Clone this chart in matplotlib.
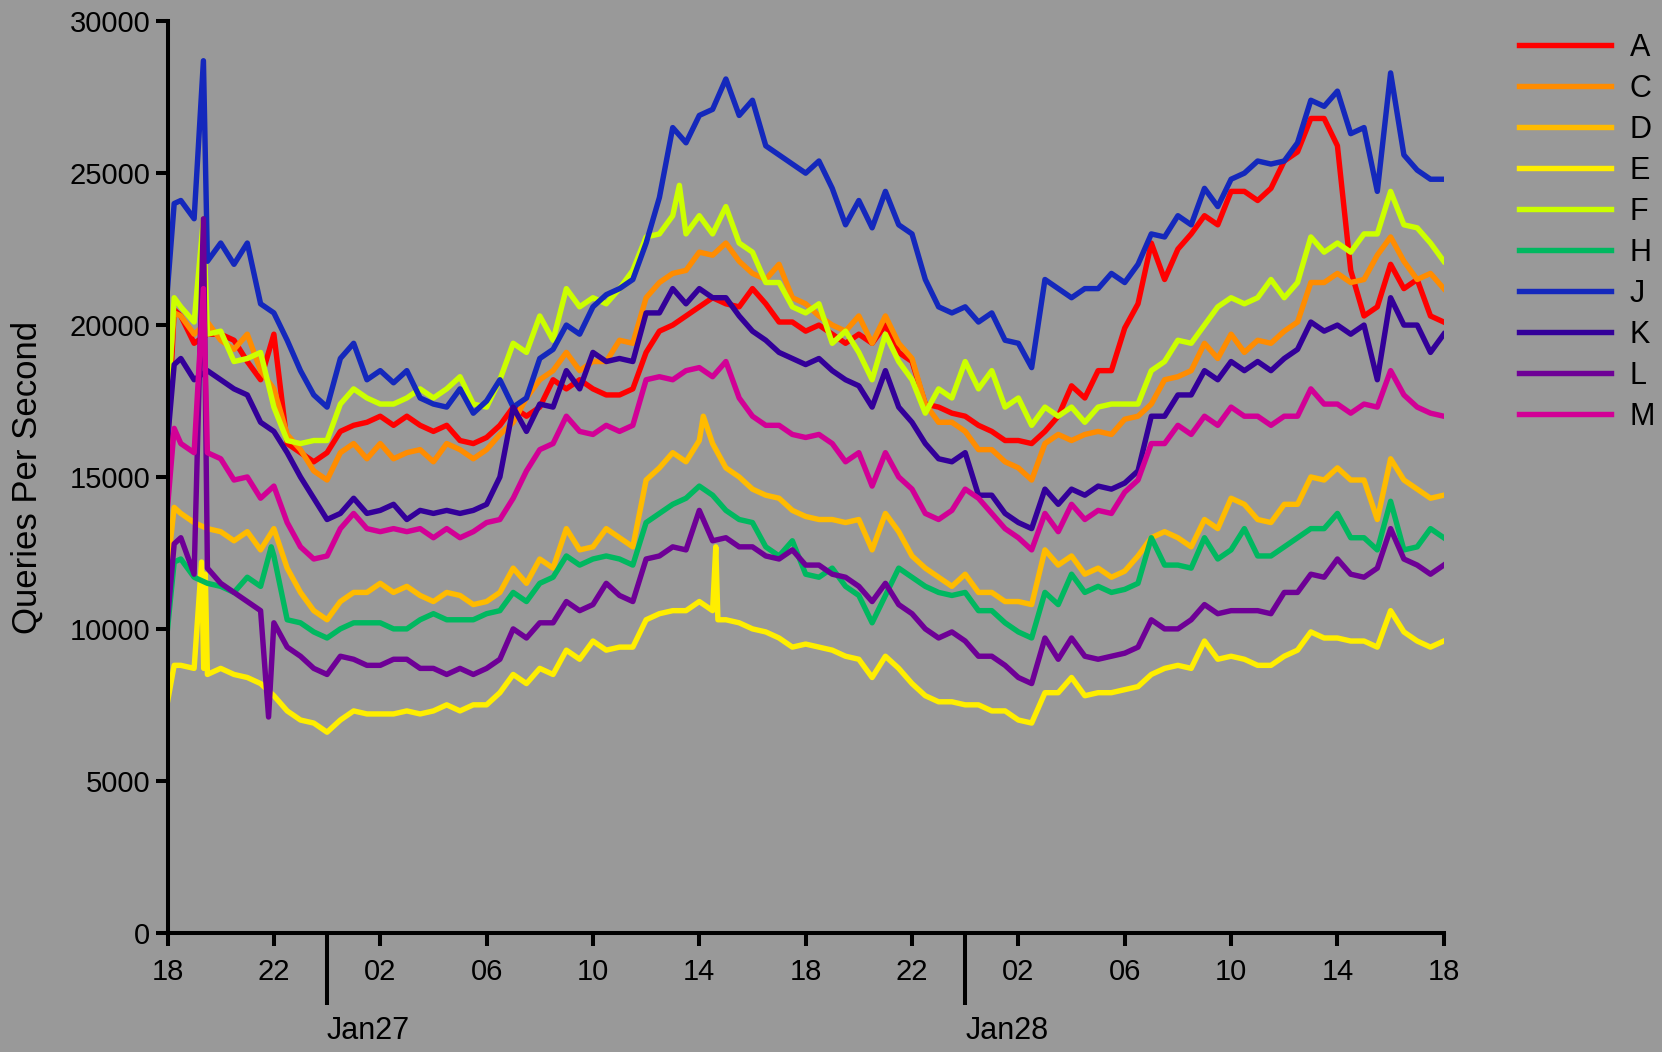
import numpy as np
import matplotlib.pyplot as plt

# half-hourly readings, Jan 26 18:00 .. Jan 28 18:00 (97 points each)
A = [16000, 20300, 19400, 19700, 19700, 19500, 18800, 18200, 19700, 16100, 15800, 15500, 15800,
     16500, 16700, 16800, 17000, 16700, 17000, 16700, 16500, 16700, 16200, 16100, 16300,
     16700, 17300, 17000, 17300, 18200, 17900, 18200, 17900, 17700, 17700, 17900, 19100,
     19800, 20000, 20300, 20600, 20900, 20700, 20600, 21200, 20700, 20100, 20100, 19800,
     20000, 19700, 19400, 19700, 19400, 20000, 19100, 18800, 17400, 17300, 17100, 17000,
     16700, 16500, 16200, 16200, 16100, 16500, 17000, 18000, 17600, 18500, 18500, 19900,
     20700, 22700, 21500, 22500, 23000, 23600, 23300, 24400, 24400, 24100, 24500, 25400,
     25700, 26800, 26800, 25900, 21800, 20300, 20600, 22000, 21200, 21500, 20300, 20100]
C = [17500, 20300, 19700, 20100, 19500, 19200, 19700, 18500, 17900, 16400, 15900, 15200, 14900,
     15800, 16100, 15600, 16100, 15600, 15800, 15900, 15500, 16100, 15900, 15600, 15900,
     16400, 16800, 17600, 18200, 18500, 19100, 18500, 18800, 18800, 19500, 19400, 20900,
     21400, 21700, 21800, 22400, 22300, 22700, 22100, 21700, 21500, 22000, 20900, 20700,
     20300, 20000, 19800, 20300, 19400, 20300, 19400, 18900, 17400, 16800, 16800, 16500,
     15900, 15900, 15500, 15300, 14900, 16100, 16400, 16200, 16400, 16500, 16400, 16900,
     17000, 17400, 18200, 18300, 18500, 19400, 18900, 19700, 19100, 19500, 19400, 19800,
     20100, 21400, 21400, 21700, 21400, 21500, 22300, 22900, 22100, 21500, 21700, 21200]
D = [12000, 13800, 13500, 13300, 13200, 12900, 13200, 12600, 13300, 12000, 11200, 10600, 10300,
     10900, 11200, 11200, 11500, 11200, 11400, 11100, 10900, 11200, 11100, 10800, 10900,
     11200, 12000, 11500, 12300, 12000, 13300, 12600, 12700, 13300, 13000, 12700, 14900,
     15300, 15800, 15500, 16200, 16100, 15300, 15000, 14600, 14400, 14300, 13900, 13700,
     13600, 13600, 13500, 13600, 12600, 13800, 13200, 12400, 12000, 11700, 11400, 11800,
     11200, 11200, 10900, 10900, 10800, 12600, 12100, 12400, 11800, 12000, 11700, 11900,
     12400, 13000, 13200, 13000, 12700, 13600, 13300, 14300, 14100, 13600, 13500, 14100,
     14100, 15000, 14900, 15300, 14900, 14900, 13600, 15600, 14900, 14600, 14300, 14400]
E = [7600, 8800, 8700, 8500, 8700, 8500, 8400, 8200, 7800, 7300, 7000, 6900, 6600,
     7000, 7300, 7200, 7200, 7200, 7300, 7200, 7300, 7500, 7300, 7500, 7500,
     7900, 8500, 8200, 8700, 8500, 9300, 9000, 9600, 9300, 9400, 9400, 10300,
     10500, 10600, 10600, 10900, 10600, 10300, 10200, 10000, 9900, 9700, 9400, 9500,
     9400, 9300, 9100, 9000, 8400, 9100, 8700, 8200, 7800, 7600, 7600, 7500,
     7500, 7300, 7300, 7000, 6900, 7900, 7900, 8400, 7800, 7900, 7900, 8000,
     8100, 8500, 8700, 8800, 8700, 9600, 9000, 9100, 9000, 8800, 8800, 9100,
     9300, 9900, 9700, 9700, 9600, 9600, 9400, 10600, 9900, 9600, 9400, 9600]
F = [17200, 20600, 20100, 19700, 19800, 18800, 18900, 19100, 17300, 16200, 16100, 16200, 16200,
     17400, 17900, 17600, 17400, 17400, 17600, 17900, 17600, 17900, 18300, 17400, 17300,
     18200, 19400, 19100, 20300, 19500, 21200, 20600, 20900, 20700, 21200, 21800, 22900,
     23000, 23600, 23000, 23600, 23000, 23900, 22700, 22400, 21400, 21400, 20600, 20400,
     20700, 19400, 19800, 19100, 18200, 19700, 18800, 18200, 17100, 17900, 17600, 18800,
     17900, 18500, 17300, 17600, 16700, 17300, 17000, 17300, 16800, 17300, 17400, 17400,
     17400, 18500, 18800, 19500, 19400, 20000, 20600, 20900, 20700, 20900, 21500, 20900,
     21400, 22900, 22400, 22700, 22400, 23000, 23000, 24400, 23300, 23200, 22700, 22100]
H = [10000, 12300, 11700, 11500, 11400, 11200, 11700, 11400, 12400, 10300, 10200, 9900, 9700,
     10000, 10200, 10200, 10200, 10000, 10000, 10300, 10500, 10300, 10300, 10300, 10500,
     10600, 11200, 10900, 11500, 11700, 12400, 12100, 12300, 12400, 12300, 12100, 13500,
     13800, 14100, 14300, 14700, 14400, 13900, 13600, 13500, 12700, 12400, 12900, 11800,
     11700, 12000, 11400, 11100, 10200, 11100, 12000, 11700, 11400, 11200, 11100, 11200,
     10600, 10600, 10200, 9900, 9700, 11200, 10800, 11800, 11200, 11400, 11200, 11300,
     11500, 13000, 12100, 12100, 12000, 13000, 12300, 12600, 13300, 12400, 12400, 12700,
     13000, 13300, 13300, 13800, 13000, 13000, 12600, 14200, 12600, 12700, 13300, 13000]
J = [21200, 24100, 23500, 22100, 22700, 22000, 22700, 20700, 20400, 19500, 18500, 17700, 17300,
     18900, 19400, 18200, 18500, 18100, 18500, 17600, 17400, 17300, 17900, 17100, 17500,
     18200, 17300, 17600, 18900, 19200, 20000, 19700, 20600, 21000, 21200, 21500, 22700,
     24200, 26500, 26000, 26900, 27100, 28100, 26900, 27400, 25900, 25600, 25300, 25000,
     25400, 24500, 23300, 24100, 23200, 24400, 23300, 23000, 21500, 20600, 20400, 20600,
     20100, 20400, 19500, 19400, 18600, 21500, 21200, 20900, 21200, 21200, 21700, 21400,
     22000, 23000, 22900, 23600, 23300, 24500, 23900, 24800, 25000, 25400, 25300, 25400,
     26000, 27400, 27200, 27700, 26300, 26500, 24400, 28300, 25600, 25100, 24800, 24800]
K = [16200, 18900, 18200, 18500, 18200, 17900, 17700, 16800, 16500, 15800, 15000, 14300, 13600,
     13800, 14300, 13800, 13900, 14100, 13600, 13900, 13800, 13900, 13800, 13900, 14100,
     15000, 17300, 16500, 17400, 17300, 18500, 17900, 19100, 18800, 18900, 18800, 20400,
     20400, 21200, 20700, 21200, 20900, 20900, 20300, 19800, 19500, 19100, 18900, 18700,
     18900, 18500, 18200, 18000, 17300, 18500, 17300, 16800, 16100, 15600, 15500, 15800,
     14400, 14400, 13800, 13500, 13300, 14600, 14100, 14600, 14400, 14700, 14600, 14800,
     15200, 17000, 17000, 17700, 17700, 18500, 18200, 18800, 18500, 18800, 18500, 18900,
     19200, 20100, 19800, 20000, 19700, 20000, 18200, 20900, 20000, 20000, 19100, 19700]
L = [10300, 13000, 11800, 12000, 11500, 11200, 10900, 10600, 10200, 9400, 9100, 8700, 8500,
     9100, 9000, 8800, 8800, 9000, 9000, 8700, 8700, 8500, 8700, 8500, 8700,
     9000, 10000, 9700, 10200, 10200, 10900, 10600, 10800, 11500, 11100, 10900, 12300,
     12400, 12700, 12600, 13900, 12900, 13000, 12700, 12700, 12400, 12300, 12600, 12100,
     12100, 11800, 11700, 11400, 10900, 11500, 10800, 10500, 10000, 9700, 9900, 9600,
     9100, 9100, 8800, 8400, 8200, 9700, 9000, 9700, 9100, 9000, 9100, 9200,
     9400, 10300, 10000, 10000, 10300, 10800, 10500, 10600, 10600, 10600, 10500, 11200,
     11200, 11800, 11700, 12300, 11800, 11700, 12000, 13300, 12300, 12100, 11800, 12100]
M = [14000, 16100, 15800, 15800, 15600, 14900, 15000, 14300, 14700, 13500, 12700, 12300, 12400,
     13300, 13800, 13300, 13200, 13300, 13200, 13300, 13000, 13300, 13000, 13200, 13500,
     13600, 14300, 15200, 15900, 16100, 17000, 16500, 16400, 16700, 16500, 16700, 18200,
     18300, 18200, 18500, 18600, 18300, 18800, 17600, 17000, 16700, 16700, 16400, 16300,
     16400, 16100, 15500, 15800, 14700, 15800, 15000, 14600, 13800, 13600, 13900, 14600,
     14300, 13800, 13300, 13000, 12600, 13800, 13200, 14100, 13600, 13900, 13800, 14500,
     14900, 16100, 16100, 16700, 16400, 17000, 16700, 17300, 17000, 17000, 16700, 17000,
     17000, 17900, 17400, 17400, 17100, 17400, 17300, 18500, 17700, 17300, 17100, 17000]

# sharp readings between the half hours (hour, value)
extra = {
    'A': [(0.25, 20500)],
    'C': [(0.25, 20400)],
    'D': [(0.25, 14000), (20.15, 17000)],
    'E': [(0.25, 8800), (1.28, 12200), (1.36, 8700), (1.42, 11800), (20.62, 12700), (20.7, 10300)],
    'F': [(0.25, 20900), (1.35, 23500), (19.25, 24600)],
    'H': [(0.25, 12200), (3.9, 12700)],
    'J': [(0.25, 24000), (1.35, 28700)],
    'K': [(0.25, 18700)],
    'L': [(0.25, 12800), (1.35, 23500), (3.8, 7100)],
    'M': [(0.25, 16600), (1.35, 21200)],
}

names = ['A', 'C', 'D', 'E', 'F', 'H', 'J', 'K', 'L', 'M']
series = [A, C, D, E, F, H, J, K, L, M]
colors = ['#ff0000', '#ff8c00', '#ffbb00', '#ffee00', '#ccff00',
          '#00b860', '#1428bc', '#330099', '#6e0096', '#d20096']

xticks = [0, 4, 8, 12, 16, 20, 24, 28, 32, 36, 40, 44, 48]
xticklabels = ['18', '22', '02', '06', '10', '14', '18', '22', '02', '06', '10', '14', '18']
days = [(6, 'Jan27'), (30, 'Jan28')]

plt.rcParams['font.family'] = ['Liberation Sans', 'DejaVu Sans']
bg = '#999999'
fig = plt.figure(figsize=(16.62, 10.52), dpi=100, facecolor=bg)
ax = fig.add_axes([0.1008, 0.1134, 0.7679, 0.8664], facecolor=bg)

for name, vals, col in zip(names, series, colors):
    pts = [(i * 0.5, v) for i, v in enumerate(vals)] + extra[name]
    pts.sort()
    x = [p[0] for p in pts]
    y = [p[1] for p in pts]
    ax.plot(x, y, color=col, lw=3.9, label=name)

ax.set_xlim(0, 48)
ax.set_ylim(0, 30000)
ax.set_yticks(np.arange(0, 30001, 5000))
ax.set_xticks(xticks)
ax.set_xticklabels(xticklabels)
for s in ['top', 'right']:
    ax.spines[s].set_visible(False)
for s in ['left', 'bottom']:
    ax.spines[s].set_linewidth(2.9)
ax.tick_params(axis='both', width=2.9, length=9, labelsize=21, direction='out')
ax.tick_params(axis='x', pad=9)
ax.set_ylabel('Queries Per Second', fontsize=25, va='center')
ax.yaxis.set_label_coords(-0.110, 0.5)

# day separators
ax.set_xticks([d[0] for d in days], minor=True)
ax.tick_params(axis='x', which='minor', length=52, width=2.9)
for h, lab in days:
    ax.text(h, -0.108, lab, transform=ax.get_xaxis_transform(), ha='left',
            va='center', fontsize=22)

fig.legend(loc='upper left', bbox_to_anchor=(0.914, 0.969), frameon=False,
           fontsize=22, handlelength=3.0, handletextpad=0.62, labelspacing=0.36,
           borderpad=0, borderaxespad=0)

fig.savefig('out.png', dpi=100, facecolor=bg)
